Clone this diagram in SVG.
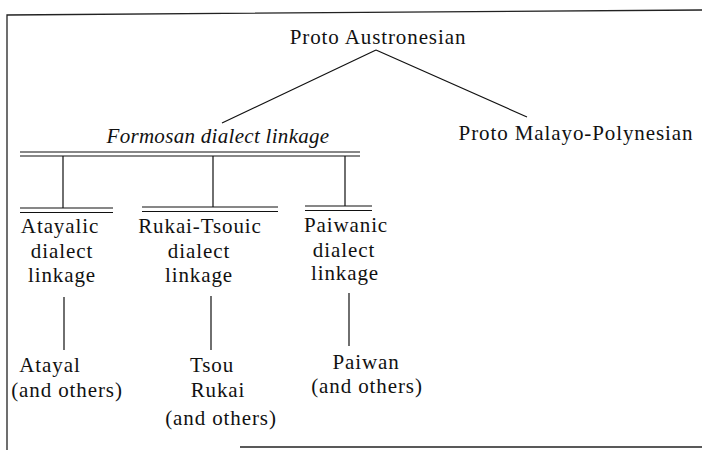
<svg xmlns="http://www.w3.org/2000/svg" width="702" height="450" viewBox="0 0 702 450">
<style>
text{font-family:"Liberation Serif","Times New Roman",serif;font-size:21px;letter-spacing:0.9px;fill:#111;text-anchor:middle}
.it{font-style:italic;letter-spacing:0.3px}
.ln{stroke:#111;stroke-width:1.2;fill:none}
.fr{stroke:#222;stroke-width:1.3;fill:none}
</style>
<rect width="702" height="450" fill="#fff"/>
<g id="frame">
<path class="fr" d="M7,450 V15 L702,10"/>
<path class="fr" d="M240,447 H702"/>
</g>
<g id="connectors">
<path class="ln" d="M376,50 L222,123 M376,50 L527,117"/>
<path class="ln" d="M20,152 H360 M20,156 H360"/>
<path class="ln" d="M63,156 V208 M213,156 V207 M345,156 V206"/>
<path class="ln" d="M20,208 H113 M20,212.5 H113"/>
<path class="ln" d="M142,207 H278 M142,211.5 H278"/>
<path class="ln" d="M305,206 H372 M305,210.5 H372"/>
<path class="ln" d="M64,297 V350 M211,296 V350 M349,293 V346"/>
</g>
<g id="proto-austronesian"><text x="378" y="44">Proto Austronesian</text></g>
<g id="formosan"><text class="it" x="218" y="143">Formosan dialect linkage</text></g>
<g id="proto-malayo-polynesian"><text x="576" y="140">Proto Malayo-Polynesian</text></g>
<g id="atayalic">
<text x="60" y="233">Atayalic</text>
<text x="62" y="258">dialect</text>
<text x="62" y="282">linkage</text>
</g>
<g id="rukai-tsouic">
<text x="200" y="233">Rukai-Tsouic</text>
<text x="199" y="258">dialect</text>
<text x="199" y="282">linkage</text>
</g>
<g id="paiwanic">
<text x="346" y="232">Paiwanic</text>
<text x="344" y="257">dialect</text>
<text x="345" y="280">linkage</text>
</g>
<g id="atayal">
<text x="50" y="372">Atayal</text>
<text x="67" y="397">(and others)</text>
</g>
<g id="tsou-rukai">
<text x="212" y="372">Tsou</text>
<text x="218" y="397">Rukai</text>
<text x="221" y="425">(and others)</text>
</g>
<g id="paiwan">
<text x="366" y="369">Paiwan</text>
<text x="367" y="393">(and others)</text>
</g>
</svg>
